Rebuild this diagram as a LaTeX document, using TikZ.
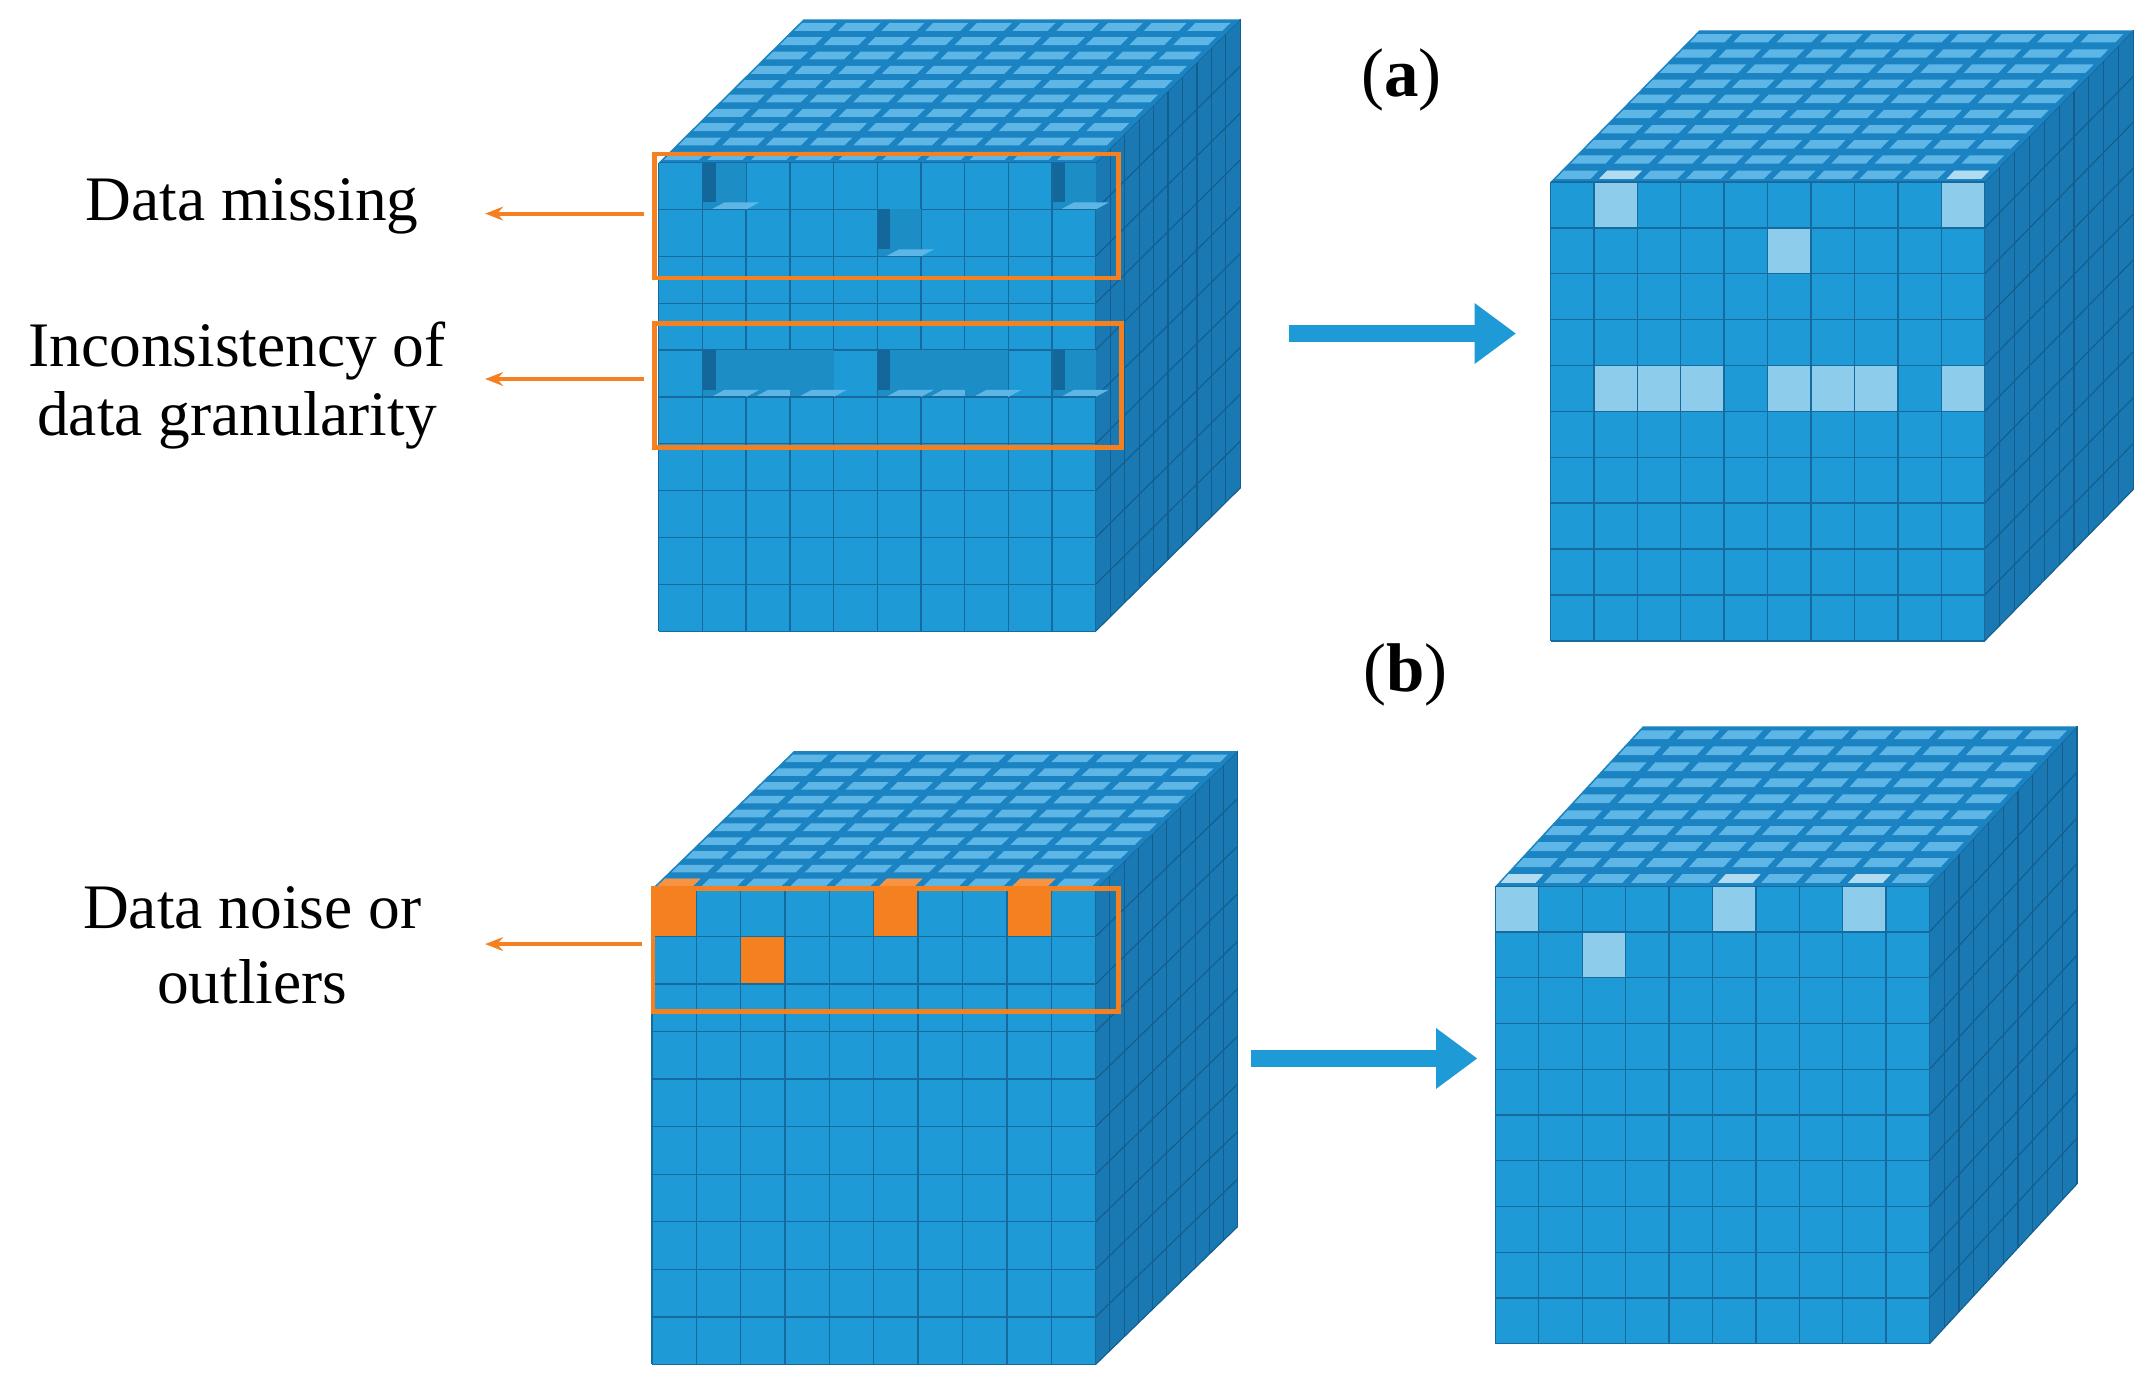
\documentclass[tikz,border=0pt]{standalone}
\usepackage{fontspec}
\setmainfont{Liberation Serif}
\usetikzlibrary{arrows.meta}
\definecolor{frontc}{HTML}{1E9AD6}
\definecolor{fline}{HTML}{176A9E}
\definecolor{rightc}{HTML}{1A78B2}
\definecolor{rline}{HTML}{135E8E}
\definecolor{topc}{HTML}{1B83C2}
\definecolor{topl}{HTML}{5DB6E6}
\definecolor{lightc}{HTML}{8ECCEB}
\definecolor{orng}{HTML}{F5801F}
\definecolor{darkstrip}{HTML}{14679A}
\definecolor{arrowblue}{HTML}{1E9AD6}
\tikzset{
  fl/.style={draw=fline,line width=1pt},
  rl/.style={draw=rline,line width=0.8pt},
  obox/.style={draw=orng,line width=3.5pt},
  oarr/.style={draw=orng,line width=3pt,-{Stealth[length=13pt,width=10pt]}},
  barr/.style={draw=arrowblue,line width=12pt,-{Triangle[length=30pt,width=42pt]}},
  lbl/.style={font=\fontsize{46}{56}\selectfont,align=center},
  tag/.style={font=\fontsize{50}{60}\selectfont}
}
\newcommand\cubebody[4]{%
  \def\W{#1}\def\H{#2}\def\DX{#3}\def\DD{#4}%
  \fill[rightc] (\W,0) -- ++(\DX,-\DD) -- ++(0,\H) -- (\W,\H) -- cycle;
  \foreach \k in {0,...,10} \draw[rl] ({\W+\k*\DX/10},{-\k*\DD/10}) -- ++(0,\H);
  \foreach \j in {0,...,10} \draw[rl] (\W,{\j*\H/10}) -- ++(\DX,-\DD);
  \fill[topc] (0,0) -- (\W,0) -- ++(\DX,-\DD) -- ++(-\W,0) -- cycle;
  \foreach \i in {0,...,9} \foreach \k in {0,...,9}
    \fill[topl] ({\i*\W/10+\k*\DX/10+0.12*\W/10},{-\k*\DD/10-0.2*\DD/10}) -- ++({0.8*\W/10},0) -- ++({0.55*\DX/10},{-0.55*\DD/10}) -- ++({-0.8*\W/10},0) -- cycle;
  \fill[frontc] (0,0) rectangle (\W,\H);
  \foreach \i in {0,...,10} \draw[fl] ({\i*\W/10},0) -- ++(0,\H);
  \foreach \j in {0,...,10} \draw[fl] (0,{\j*\H/10}) -- ++(\W,0);
}
\newcommand\lightcell[2]{\filldraw[fill=lightc,fl] ({#1*\W/10},{#2*\H/10}) rectangle ++({\W/10},{\H/10});}
\newcommand\lighttop[1]{\fill[lightc!70!white] ({#1*\W/10+0.12*\W/10},{-0.2*\DD/10}) -- ++({0.8*\W/10},0) -- ++({0.55*\DX/10},{-0.55*\DD/10}) -- ++({-0.8*\W/10},0) -- cycle;}
\newcommand\orcell[2]{\filldraw[fill=orng,fl] ({#1*\W/10},{#2*\H/10}) rectangle ++({\W/10},{\H/10});}
\newcommand\ortop[1]{\fill[orng!85!white] ({#1*\W/10+0.12*\W/10},{-0.2*\DD/10}) -- ++({0.8*\W/10},0) -- ++({0.55*\DX/10},{-0.55*\DD/10}) -- ++({-0.8*\W/10},0) -- cycle;}
% missing cell without / with left dark strip
\newcommand\gap[2]{%
  \fill[frontc!92!black] ({#1*\W/10},{#2*\H/10}) rectangle ++({\W/10},{\H/10});
  \fill[topl] ({#1*\W/10+0.2*\W/10},{#2*\H/10+\H/10}) -- ++({0.8*\W/10},0) -- ++({0.3*\W/10},{-0.15*\H/10}) -- ++({-0.8*\W/10},0) -- cycle;
  \draw[fl] ({#1*\W/10},{#2*\H/10+\H/10}) -- ++({\W/10},0);
}
\newcommand\missing[2]{%
  \gap{#1}{#2}%
  \fill[darkstrip] ({#1*\W/10},{#2*\H/10}) rectangle ++({0.3*\W/10},{0.85*\H/10});
  \draw[fl] ({#1*\W/10},{#2*\H/10}) -- ++(0,{\H/10});
}
\begin{document}
\begin{tikzpicture}[x=1pt,y=-1pt]
\useasboundingbox[fill=white] (0,0) rectangle (1560,1008);
% cube a1
\begin{scope}[shift={(478,118)}]
  \cubebody{317}{340}{105}{104}
  \missing{1}{0}\missing{9}{0}\missing{5}{1}
  \gap{2}{4}\gap{3}{4}\gap{6}{4}\gap{7}{4}
  \missing{1}{4}\missing{5}{4}\missing{9}{4}
\end{scope}
% cube a2
\begin{scope}[shift={(1125,132)}]
  \cubebody{315}{333}{108}{110}
  \lighttop{1}\lighttop{9}
  \lightcell{1}{0}\lightcell{9}{0}\lightcell{5}{1}
  \foreach \c in {1,2,3,5,6,7,9} {\lightcell{\c}{4}}
\end{scope}
% cube b1
\begin{scope}[shift={(473,645)}]
  \cubebody{322}{345}{103}{100}
  \ortop{0}\ortop{5}\ortop{8}
  \orcell{0}{0}\orcell{5}{0}\orcell{8}{0}\orcell{2}{1}
\end{scope}
% cube b2
\begin{scope}[shift={(1085,643)}]
  \cubebody{315}{332}{107}{116}
  \lighttop{0}\lighttop{5}\lighttop{8}
  \lightcell{0}{0}\lightcell{5}{0}\lightcell{8}{0}\lightcell{2}{1}
\end{scope}
% orange boxes
\node[obox,minimum width=337pt,minimum height=90pt,anchor=north west,inner sep=0] (box1) at (473,110) {};
\node[obox,minimum width=339pt,minimum height=90pt,anchor=north west,inner sep=0] (box2) at (473,233) {};
\node[obox,minimum width=338pt,minimum height=89pt,anchor=north west,inner sep=0] (box3) at (472,643) {};
% labels
\node[lbl] (l1) at (183,150) {Data missing};
\node[lbl,align=center] (l2) at (172,280) {Inconsistency of\\[-6pt]data granularity};
\node[lbl,align=center] (l3) at (183,686) {Data noise or\\[-2pt]outliers};
\coordinate (e1) at (352,155);
\coordinate (e2) at (352,275);
\coordinate (e3) at (352,685);
\draw[oarr] (box1.west |- e1) ++(-6,0) -- (e1);
\draw[oarr] (box2.west |- e2) ++(-6,0) -- (e2);
\draw[oarr] (box3.west |- e3) ++(-6,0) -- (e3);
% blue arrows
\coordinate (b1s) at (935,242); \coordinate (b1e) at (1100,242);
\coordinate (b2s) at (908,768); \coordinate (b2e) at (1072,768);
\draw[barr] (b1s) -- (b1e);
\draw[barr] (b2s) -- (b2e);
\node[tag] (ta) at (1017,58) {(\textbf{a})};
\node[tag] (tb) at (1020,490) {(\textbf{b})};
\end{tikzpicture}
\end{document}
